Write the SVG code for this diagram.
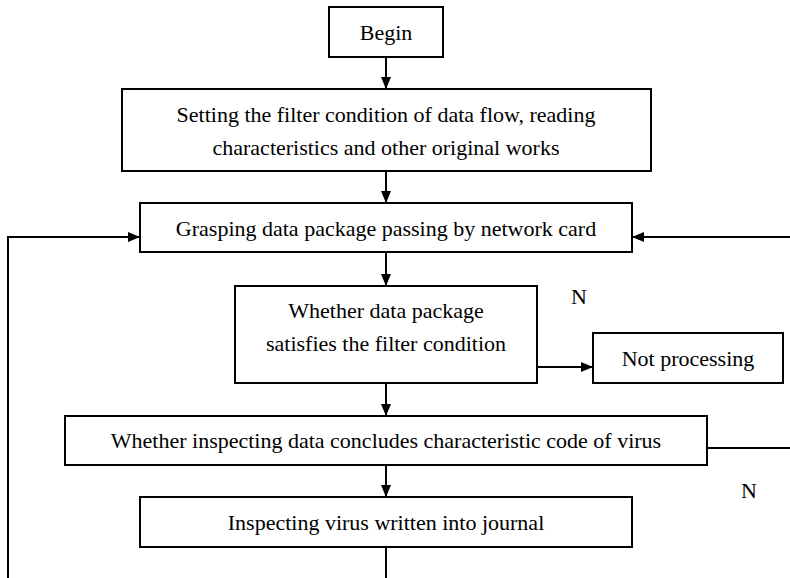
<svg xmlns="http://www.w3.org/2000/svg" width="790" height="578" viewBox="0 0 790 578">
<style>
.box{fill:#fff;stroke:#000;stroke-width:2}
.t{font-family:"Liberation Serif","Times New Roman",serif;font-size:22px;fill:#000;text-anchor:middle}
.c{stroke:#000;stroke-width:2;fill:none}
</style>
<defs>
<marker id="ah" markerWidth="12" markerHeight="10" refX="12" refY="5" orient="auto" markerUnits="userSpaceOnUse">
<path d="M0,0 L12,5 L0,10 Z" fill="#000"/>
</marker>
</defs>
<rect width="790" height="578" fill="#fff"/>
<g id="connectors">
<line class="c" x1="386" y1="57" x2="386" y2="89" marker-end="url(#ah)"/>
<line class="c" x1="386" y1="171" x2="386" y2="203" marker-end="url(#ah)"/>
<line class="c" x1="386" y1="252" x2="386" y2="286" marker-end="url(#ah)"/>
<line class="c" x1="386" y1="383" x2="386" y2="416" marker-end="url(#ah)"/>
<line class="c" x1="386" y1="465" x2="386" y2="497" marker-end="url(#ah)"/>
<line class="c" x1="386" y1="547" x2="386" y2="578"/>
<line class="c" x1="537" y1="367" x2="593" y2="367" marker-end="url(#ah)"/>
<line class="c" x1="707" y1="448" x2="790" y2="448"/>
<polyline class="c" points="8,578 8,237 140,237" marker-end="url(#ah)"/>
<line class="c" x1="790" y1="237" x2="632" y2="237" marker-end="url(#ah)"/>
<text class="t" x="579" y="304">N</text>
<text class="t" x="749" y="498">N</text>
</g>
<g id="begin">
<rect class="box" x="329" y="7" width="114" height="50"/>
<text class="t" x="386" y="40">Begin</text>
</g>
<g id="setting">
<rect class="box" x="122" y="89" width="529" height="82"/>
<text class="t" x="386" y="122">Setting the filter condition of data flow, reading</text>
<text class="t" x="386" y="155">characteristics and other original works</text>
</g>
<g id="grasping">
<rect class="box" x="140" y="203" width="492" height="49"/>
<text class="t" x="386" y="236">Grasping data package passing by network card</text>
</g>
<g id="whether1">
<rect class="box" x="235" y="286" width="302" height="97"/>
<text class="t" x="386" y="318">Whether data package</text>
<text class="t" x="386" y="351">satisfies the filter condition</text>
</g>
<g id="notprocessing">
<rect class="box" x="593" y="333" width="190" height="50"/>
<text class="t" x="688" y="366">Not processing</text>
</g>
<g id="whether2">
<rect class="box" x="65" y="416" width="642" height="49"/>
<text class="t" x="386" y="448">Whether inspecting data concludes characteristic code of virus</text>
</g>
<g id="inspecting">
<rect class="box" x="140" y="497" width="492" height="50"/>
<text class="t" x="386" y="530">Inspecting virus written into journal</text>
</g>
</svg>
